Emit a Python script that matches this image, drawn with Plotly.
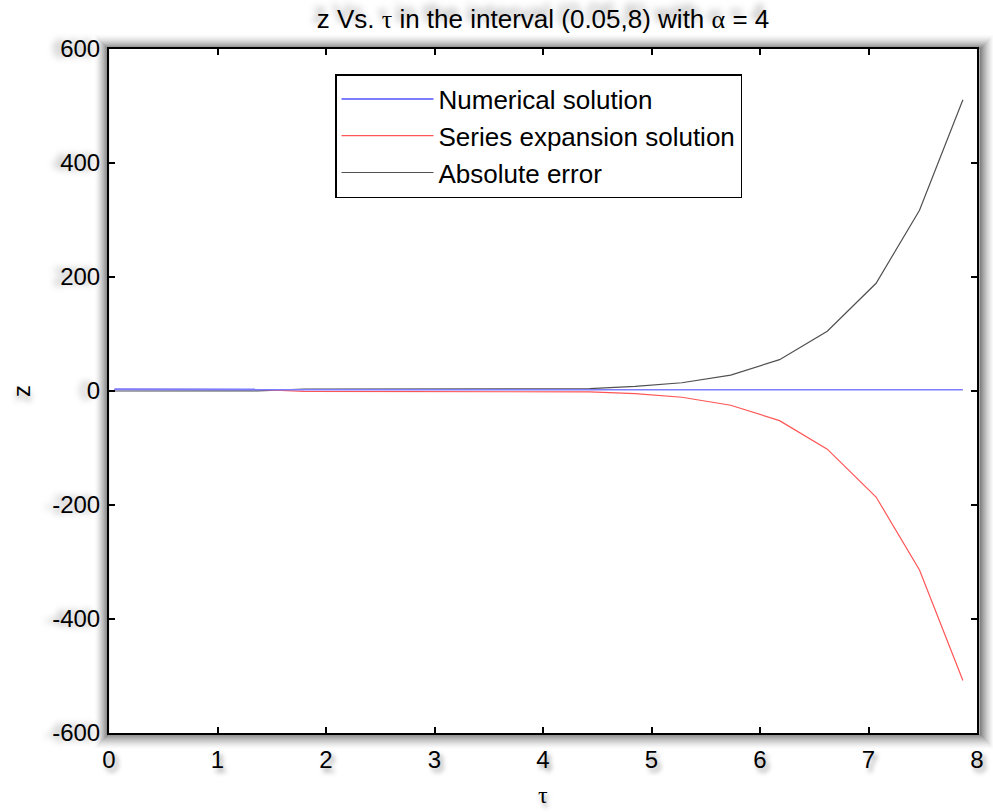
import plotly.graph_objects as go

# Sampled time points and solution values
tau = [0.05, 0.49, 0.93, 1.37, 1.80, 2.24, 2.68, 3.11, 3.55, 3.99,
       4.43, 4.85, 5.28, 5.73, 6.18, 6.62, 7.07, 7.47, 7.87]
numerical = [2.9, 2.8, 2.7, 2.7, 2.6, 2.6, 2.6, 2.6, 2.6, 2.6,
             2.6, 2.6, 2.6, 2.6, 2.6, 2.6, 2.6, 2.6, 2.6]
series = [2.9, 2.8, 2.7, 2.6, -0.8, -0.9, -1.0, -1.0, -1.1, -1.2,
          -1.5, -4.5, -11.0, -25.0, -52.0, -102.0, -186.0, -314.0, -508.0]
abs_error = [0.0, 0.0, 0.0, 0.1, 3.4, 3.5, 3.6, 3.6, 3.7, 3.8,
             4.1, 8.0, 14.5, 28.0, 55.0, 105.0, 189.0, 317.0, 511.0]

x_ticks = [0, 1, 2, 3, 4, 5, 6, 7, 8]
y_ticks = [-600, -400, -200, 0, 200, 400, 600]

W, H = 993, 812
ML, MR, MT, MB = 109, 16, 49, 79
PW, PH = W - ML - MR, H - MT - MB

FONT = "Liberation Sans, Arial, sans-serif"
SERIF = "Liberation Serif, Times New Roman, serif"

fig = go.Figure()
# error and series drawn first so the numerical curve sits on top
fig.add_trace(go.Scatter(x=tau, y=abs_error, mode="lines", name="Absolute error",
                         line=dict(color="rgb(80,80,80)", width=1.2), legendrank=3))
fig.add_trace(go.Scatter(x=tau, y=series, mode="lines", name="Series expansion solution",
                         line=dict(color="rgb(255,85,85)", width=1.2), legendrank=2))
fig.add_trace(go.Scatter(x=tau, y=numerical, mode="lines", name="Numerical solution",
                         line=dict(color="rgb(125,125,255)", width=2), legendrank=1))

# soft shadow around the axes frame
shapes = []
steps = 15
for k in range(1, steps + 1):
    d = k * 1.0
    a = 0.5 * (1 - (k - 1) / steps) ** 1.7
    x0 = (-d + 0.5) / PW
    x1 = 1 + (d + 2.0) / PW
    y0 = (-d - 1.0) / PH
    y1 = 1 + (d - 0.5) / PH
    shapes.append(dict(type="rect", xref="paper", yref="paper",
                       x0=x0, x1=x1, y0=y0, y1=y1,
                       line=dict(color=f"rgba(0,0,0,{a:.3f})", width=1.2),
                       layer="below"))

axis_common = dict(showgrid=False, zeroline=False, showline=True, linecolor="black",
                   linewidth=2, mirror="ticks", ticks="inside", ticklen=6,
                   tickwidth=1.5, tickcolor="black")

fig.update_layout(
    width=W, height=H,
    margin=dict(l=ML, r=MR, t=MT, b=MB, autoexpand=False),
    paper_bgcolor="white", plot_bgcolor="white",
    font=dict(family=FONT, color="black"),
    title=dict(text=f"z Vs. <span style='font-family:{SERIF}'>τ</span> in the interval (0.05,8) with "
                    f"<span style='font-family:{SERIF}'>α</span> = 4",
               x=(ML + PW / 2) / W, xanchor="center", y=1 - 19 / H, yanchor="middle",
               font=dict(size=26, shadow="-4px -6px 7px rgba(0,0,0,0.35)")),
    xaxis=dict(range=[0, 8], tickvals=x_ticks, ticktext=[str(v) for v in x_ticks],
               tickfont=dict(size=24, shadow="3px 4px 5px rgba(0,0,0,0.4)"),
               ticklabelstandoff=4, **axis_common),
    yaxis=dict(range=[-600, 600], tickvals=y_ticks, ticktext=[str(v) for v in y_ticks],
               tickfont=dict(size=24, shadow="-7px 0px 7px rgba(0,0,0,0.35)"),
               ticklabelstandoff=2, **axis_common),
    legend=dict(x=(335 - ML) / PW, y=(H - MB - 74) / PH, xanchor="left", yanchor="top",
                bgcolor="white", bordercolor="black", borderwidth=1.5,
                font=dict(size=26, family=FONT), itemwidth=92,
                tracegroupgap=0, traceorder="normal"),
    showlegend=True,
    shapes=shapes,
    annotations=[
        dict(text="τ", xref="paper", yref="paper", x=0.5, y=-(795 - (H - MB)) / PH,
             xanchor="center", yanchor="middle", showarrow=False,
             font=dict(size=24, family=SERIF, shadow="2px 4px 5px rgba(0,0,0,0.4)")),
        dict(text="z", xref="paper", yref="paper", x=-(ML - 21) / PW, y=0.5,
             xanchor="center", yanchor="middle", showarrow=False, textangle=-90,
             font=dict(size=24, shadow="-5px 0px 6px rgba(0,0,0,0.35)")),
    ],
)

fig.write_html("out.html")
